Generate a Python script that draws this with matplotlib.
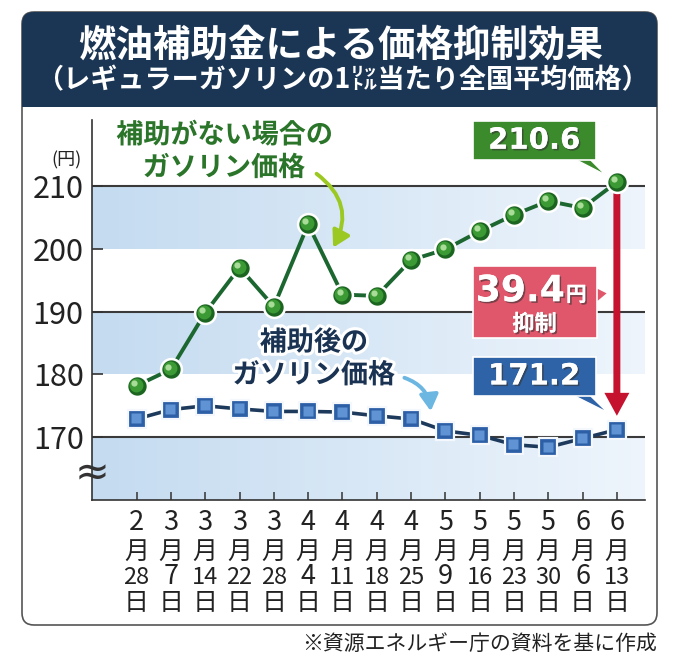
import numpy as np
import matplotlib.pyplot as plt
import matplotlib.patheffects as pe
from matplotlib import transforms, font_manager
from matplotlib.colors import LinearSegmentedColormap
from matplotlib.patches import FancyBboxPatch, Rectangle, Polygon, FancyArrowPatch

# === data ===
dates = ['2/28', '3/7', '3/14', '3/22', '3/28', '4/4', '4/11', '4/18',
         '4/25', '5/9', '5/16', '5/23', '5/30', '6/6', '6/13']
no_subsidy = [178.2, 180.8, 189.8, 197.0, 190.8, 203.9, 192.7, 192.5,
              198.2, 199.9, 202.8, 205.4, 207.6, 206.5, 210.6]
with_subsidy = [172.9, 174.4, 175.0, 174.5, 174.1, 174.1, 174.0, 173.4,
                172.9, 171.0, 170.3, 168.8, 168.4, 169.8, 171.2]
yticks = [170, 180, 190, 200, 210]
gridlines = [170, 190, 210]
bands = [(160, 170), (180, 190), (200, 210)]

JP = 'Noto Sans CJK JP'
plt.rcParams['font.family'] = [JP, 'DejaVu Sans']

names = {f.name for f in font_manager.fontManager.ttflist}
NARROW = 'Liberation Sans Narrow' if 'Liberation Sans Narrow' in names else None

fig = plt.figure(figsize=(6.8, 6.67), dpi=100)
W, H = 680, 667

# === frame and header ===
inch = fig.dpi_scale_trans
fig.patches.append(FancyBboxPatch((0.22, 0.42), 6.35, 6.13,
                                  boxstyle='round,pad=0,rounding_size=0.12',
                                  fc='white', ec='#555555', lw=1.2,
                                  transform=inch, zorder=0))
fig.patches.append(FancyBboxPatch((0.22, 5.60), 6.35, 0.95,
                                  boxstyle='round,pad=0,rounding_size=0.12',
                                  fc='#1b3654', ec='none', transform=inch, zorder=1))
fig.patches.append(Rectangle((0.22, 5.60), 6.35, 0.4, fc='#1b3654', ec='none',
                             transform=inch, zorder=1))

fig.text(341 / W, 1 - 45 / H, '燃油補助金による価格抑制効果', ha='center', va='center',
         color='white', fontsize=27, fontweight='bold', zorder=3)
fig.text(342 / W, 1 - 80 / H, '（レギュラーガソリンの1㍑当たり全国平均価格）',
         ha='center', va='center', color='white', fontsize=19.5,
         fontweight='bold', zorder=3)
fig.text(657 / W, 1 - 644 / H, '※資源エネルギー庁の資料を基に作成', ha='right',
         va='center', color='#222222', fontsize=15)

# === axes ===
ax = fig.add_axes([92 / W, 1 - 500 / H, (645 - 92) / W, 380 / H])
ax.set_zorder(2)
ax.patch.set_alpha(0)
x = np.arange(len(dates))
xlim = (-1.3, 14.82)
ylim = (160, 220.5)

band_cmap = LinearSegmentedColormap.from_list('band', ['#c4dbf0', '#eef5fc'])
grad = np.linspace(0, 1, 256).reshape(1, -1)
for y0, y1 in bands:
    ax.imshow(grad, cmap=band_cmap, extent=[xlim[0], xlim[1], y0, y1],
              aspect='auto', zorder=0, interpolation='bicubic')
for g in gridlines:
    ax.axhline(g, color='#3a3a3a', lw=1.5, zorder=1)

ax.set_xlim(*xlim)
ax.set_ylim(*ylim)
for s in ['top', 'right']:
    ax.spines[s].set_visible(False)
for s in ['left', 'bottom']:
    ax.spines[s].set_color('#333333')
    ax.spines[s].set_linewidth(1.2)

ax.set_xticks(x)
ax.tick_params(axis='x', direction='in', length=6, width=1.1, colors='#333333',
               labelbottom=False)
ax.set_yticks(yticks)
ax.tick_params(axis='y', direction='in', length=8, width=1.2, colors='#333333',
               labelsize=22, pad=6, labelcolor='#222222')

ax.text(xlim[0], 164.3, '≈', ha='center', va='center', fontsize=30,
        color='#333333', family='DejaVu Sans', zorder=5)
ax.text(-2.05, 214.0, '(円)', ha='center', va='center', fontsize=13,
        color='#222222')

# === x labels (stacked: month / 月 / day / 日) ===
xt = ax.get_xaxis_transform()
ah = 380.0
for i, d in enumerate(dates):
    m, day = d.split('/')
    ax.text(i, -23 / ah, m, transform=xt, ha='center', va='center',
            fontsize=19.5, color='#222222')
    ax.text(i, -52 / ah, '月', transform=xt, ha='center', va='center',
            fontsize=18, color='#222222')
    if len(day) == 2 and NARROW:
        ax.text(i, -77 / ah, day, transform=xt, ha='center', va='center',
                fontsize=20, color='#222222', family=NARROW)
    elif len(day) == 2:
        ax.text(i, -77 / ah, day, transform=xt, ha='center', va='center',
                fontsize=17, color='#222222')
    else:
        ax.text(i, -77 / ah, day, transform=xt, ha='center', va='center',
                fontsize=19.5, color='#222222')
    ax.text(i, -103 / ah, '日', transform=xt, ha='center', va='center',
            fontsize=18, color='#222222')

# === series ===
def shifted(dx, dy):
    return ax.transData + transforms.ScaledTranslation(dx / 100, dy / 100, inch)

ax.plot(x, no_subsidy, color='#1c6630', lw=2.8, zorder=3)
ax.plot(x, no_subsidy, 'o', ms=15, mfc='#1b6520', mec='white', mew=1.8, zorder=4)
ax.plot(x, no_subsidy, 'o', ms=10, mfc='#3c9a35', mec='none', zorder=4.1,
        transform=shifted(-1, 1))
ax.plot(x, no_subsidy, 'o', ms=4.5, mfc='#a9dc98', mec='none', zorder=4.2,
        transform=shifted(-2.8, 2.8))

ax.plot(x, with_subsidy, color='#1d3a5c', lw=2.6, zorder=3)
ax.plot(x, with_subsidy, 's', ms=12.5, mfc='#2c5fa6', mec='#f4f8fc', mew=1.6, zorder=4)
ax.plot(x, with_subsidy, 's', ms=7, mfc='#5f93d3', mec='none', zorder=4.1,
        transform=shifted(-0.5, 0.5))

# === annotations ===
outline = [pe.withStroke(linewidth=4.5, foreground='white')]
ax.text(2.57, 218.1, '補助がない場合の', ha='center', va='center', fontsize=19.5,
        fontweight='bold', color='#2a7529', path_effects=outline, zorder=6)
ax.text(2.55, 212.9, 'ガソリン価格', ha='center', va='center', fontsize=19.5,
        fontweight='bold', color='#2a7529', path_effects=outline, zorder=6)
ax.add_patch(FancyArrowPatch((5.18, 212.2), (5.69, 199.8),
                             connectionstyle='arc3,rad=-0.45',
                             arrowstyle='-|>,head_length=0.7,head_width=0.4',
                             mutation_scale=14, color='#9cc822', lw=2.8, zorder=5))

ax.text(5.17, 185.1, '補助後の', ha='center', va='center', fontsize=19.5,
        fontweight='bold', color='#1a3352', path_effects=outline, zorder=6)
ax.text(5.17, 179.9, 'ガソリン価格', ha='center', va='center', fontsize=19.5,
        fontweight='bold', color='#1a3352', path_effects=outline, zorder=6)
ax.add_patch(FancyArrowPatch((7.73, 179.6), (8.58, 173.7),
                             connectionstyle='arc3,rad=-0.35',
                             arrowstyle='-|>,head_length=0.7,head_width=0.4',
                             mutation_scale=14, color='#6cb6e2', lw=2.8, zorder=5))

# red difference arrow
ax.add_patch(FancyArrowPatch((x[-1], no_subsidy[-1]), (x[-1], with_subsidy[-1]),
                             arrowstyle='simple,head_length=1.65,head_width=1.8,tail_width=0.5',
                             mutation_scale=10, fc='#c4122f', ec='none',
                             shrinkA=6, shrinkB=10, zorder=3.5))

shadow = [pe.withSimplePatchShadow(offset=(1.2, -1.2), shadow_rgbFace='#333333', alpha=0.6),
          pe.Normal()]


def callout(xv, yv, box, tail, color):
    T = inch + transforms.ScaledTranslation(xv, yv, ax.transData)
    x0, y0, x1, y1 = [v / 100 for v in box]
    ax.add_patch(Polygon(np.array(tail) / 100, closed=True, fc=color, ec='white',
                         lw=1, transform=T, zorder=6, clip_on=False))
    ax.add_patch(Rectangle((x0, y0), x1 - x0, y1 - y0, fc=color, ec='white', lw=1.2,
                           transform=T, zorder=6.1, clip_on=False))
    return T


diff = no_subsidy[-1] - with_subsidy[-1]

T = callout(x[-1], no_subsidy[-1], (-144.3, 22, -21.3, 61),
            [(-42, 23), (-27, 23), (-11, 7)], '#3b8a2c')
ax.text(-82.8 / 100, 41.5 / 100, f'{no_subsidy[-1]:.1f}', transform=T, ha='center',
        va='center', fontsize=21, fontweight='bold', color='white',
        family='DejaVu Sans', path_effects=shadow, zorder=7)

T = callout(x[-1], no_subsidy[-1], (-144.3, -156, -20.3, -84),
            [(-21, -105), (-21, -121), (-9, -111)], '#e0566a')
ax.text(-52 / 100, -119 / 100, f'{diff:.1f}', transform=T, ha='right',
        va='baseline', fontsize=26, fontweight='bold', color='white',
        family='DejaVu Sans', path_effects=shadow, zorder=7)
ax.text(-51 / 100, -119 / 100, '円', transform=T, ha='left', va='baseline',
        fontsize=15, fontweight='bold', color='white', path_effects=shadow, zorder=7)
ax.text(-82.3 / 100, -142 / 100, '抑制', transform=T, ha='center', va='center',
        fontsize=16, fontweight='bold', color='white', path_effects=shadow, zorder=7)

T = callout(x[-1], with_subsidy[-1], (-144.3, 33.7, -21.3, 72.7),
            [(-44, 34.5), (-27, 34.5), (-9, 17)], '#2f63a8')
ax.text(-82.8 / 100, 53.2 / 100, f'{with_subsidy[-1]:.1f}', transform=T, ha='center',
        va='center', fontsize=21, fontweight='bold', color='white',
        family='DejaVu Sans', path_effects=shadow, zorder=7)

fig.savefig('out.png', dpi=100)
